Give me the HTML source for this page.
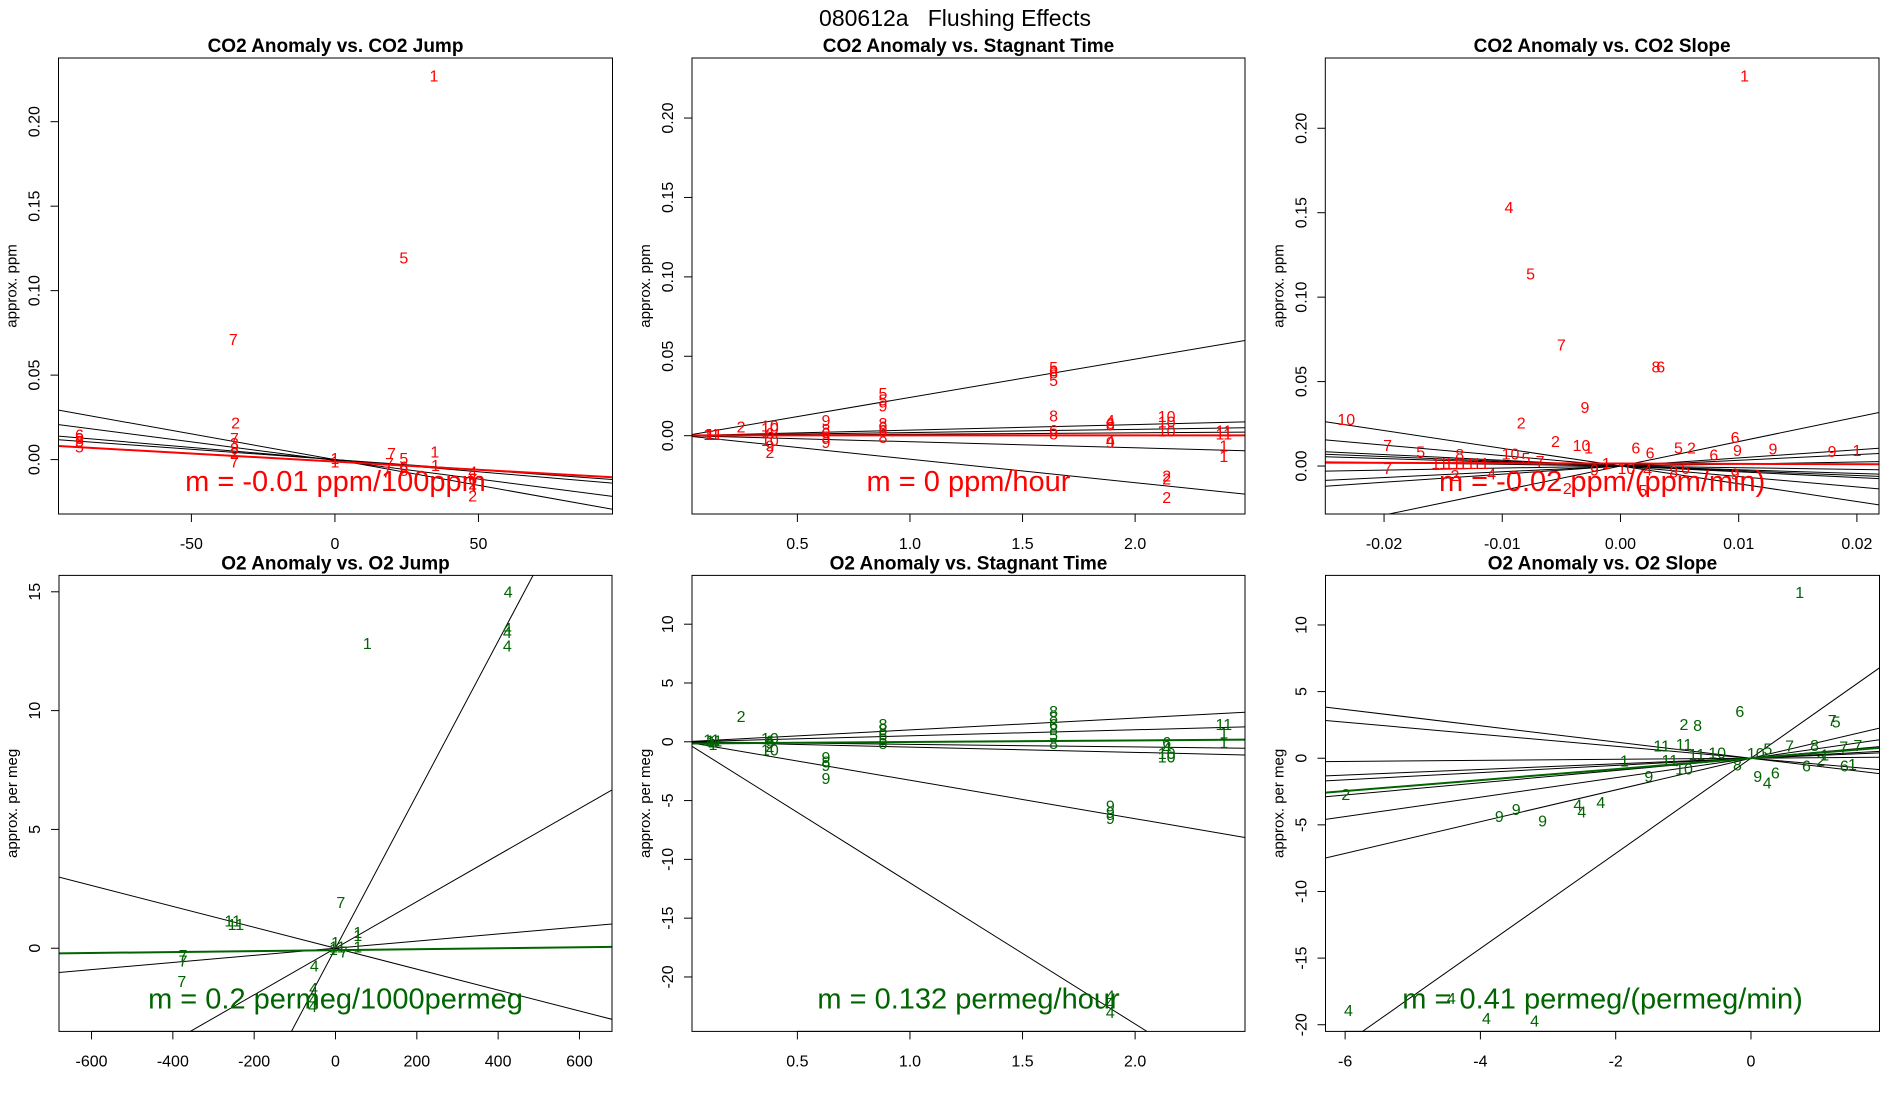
<!DOCTYPE html>
<html><head><meta charset="utf-8"><style>
html,body{margin:0;padding:0;background:#fff;width:1900px;height:1100px;overflow:hidden;}
svg{display:block;font-family:"Liberation Sans",sans-serif;}
</style></head><body>
<svg id="chart" width="1900" height="1100" viewBox="0 0 1900 1100" xmlns="http://www.w3.org/2000/svg">
<rect x="0" y="0" width="1900" height="1100" fill="#fff"/>
<text x="955" y="26" font-size="23" text-anchor="middle" style="white-space:pre" xml:space="preserve">080612a   Flushing Effects</text>
</svg>
<script>
// ---------- Panel 1: CO2 Anomaly vs. CO2 Jump ----------
const p1Labels = ["1","5","7","2","7","3","8","2","7","6","8","5","5","1","1","7","7","7","5","6","8","1","1","4","6","2","2"];
const p1X = [34.5,24,-35.4,-34.6,-35,-35,-35,-35,-35,-89,-89,-89,-89,0,0,19.7,19,18,24,24,24,34.8,35,48,48,48,48];
const p1Y = [0.2265,0.1187,0.0705,0.021,0.012,0.009,0.006,0.003,-0.002,0.014,0.012,0.010,0.007,0.0,-0.002,0.003,-0.003,-0.008,0.0,-0.005,-0.007,0.004,-0.004,-0.008,-0.012,-0.015,-0.022];
const p1Slopes = [-0.000304,-0.00022,-0.000144,-0.000122];
const p1Intercepts = [0,-0.0005,0,0];
const p1FitSlope = -0.0000959, p1FitIntercept = -0.0012;

// ---------- Panel 2: CO2 Anomaly vs. Stagnant Time ----------
const p2Labels = ["11","11","1","2","10","10","6","10","9","2","9","8","6","5","9","5","5","9","8","6","6","8","5","6","8","5","8","6","8","4","6","8","4","9","10","10","10","2","2","2","11","11","1","1"];
const p2X = [0.119,0.13,0.11,0.25,0.378,0.378,0.378,0.378,0.378,0.378,0.627,0.627,0.627,0.627,0.627,0.88,0.88,0.88,0.88,0.88,0.88,0.88,1.638,1.638,1.638,1.638,1.638,1.638,1.638,1.89,1.89,1.89,1.89,1.89,2.14,2.14,2.14,2.14,2.14,2.14,2.394,2.394,2.394,2.394];
const p2Y = [0.0,0.0,0.0,0.005,0.0055,0.004,0.0007,-0.0038,-0.007,-0.0113,0.0089,0.0032,0.001,-0.0015,-0.005,0.026,0.022,0.018,0.007,0.0047,0.0025,-0.0018,0.0424,0.040,0.039,0.034,0.0118,0.0025,0.0005,0.0089,0.007,0.006,-0.004,-0.005,0.0113,0.008,0.0022,-0.026,-0.028,-0.0394,0.0022,0.0005,-0.007,-0.0138];
const p2Slopes = [0.0241,0.0035,0.002,0.0009,-0.0038,-0.0148];
const p2Intercepts = [0,0,0,0,0,0];
const p2FitSlope = 0.0, p2FitIntercept = 0.0002;

// ---------- Panel 3: CO2 Anomaly vs. CO2 Slope ----------
const p3Labels = ["1","4","5","7","8","6","9","10","2","6","2","7","5","8","10","1","6","6","5","2","9","9","9","1","6","10","5","7","11","11","11","11","7","2","4","2","5","9","4","1","9","10","8","6"];
const p3X = [0.0105,-0.00943,-0.0076,-0.005,0.0030,0.0034,-0.003,-0.0232,-0.0084,0.0097,-0.0055,-0.0197,-0.0169,-0.0136,-0.0033,-0.0027,0.0013,0.0025,0.0049,0.006,0.0099,0.0129,0.0179,0.020,0.0079,-0.0093,-0.008,-0.0068,-0.0153,-0.0142,-0.013,-0.0118,-0.0197,-0.014,-0.0109,-0.0045,0.0019,0.0097,0.0023,-0.0012,-0.0022,0.0005,0.0045,0.0055];
const p3Y = [0.2304,0.1526,0.1131,0.0712,0.0581,0.0581,0.0342,0.027,0.025,0.0162,0.014,0.0115,0.0077,0.0063,0.0115,0.010,0.010,0.007,0.010,0.010,0.0085,0.0095,0.008,0.0087,0.0058,0.0065,0.004,0.002,0.0008,0.0008,0.0008,0.0008,-0.0021,-0.0063,-0.0053,-0.014,-0.015,-0.0053,-0.003,0.001,-0.003,-0.002,-0.004,-0.002];
const p3Slopes = [1.45,0.48,0.34,-0.22,-0.28,-0.34,-0.62,-1.05,0.12,-0.1];
const p3Intercepts = [0,0,0,0,0,0,0,0,0,0];
const p3FitSlope = -0.02, p3FitIntercept = 0.0015;

// ---------- Panel 4: O2 Anomaly vs. O2 Jump ----------
const p4Labels = ["4","4","4","4","1","7","11","11","1","1","1","7","7","7","4","4","4","4","1","11","7","1"];
const p4X = [424.6,422.7,422.7,422.7,78.3,13,-252.8,-245,55,55,55,-375,-375,-378,-52,-54,-55,-56,0,5,20,-5];
const p4Y = [14.95,13.42,13.25,12.68,12.78,1.89,1.10,0.95,0.63,0.5,0.0,-0.35,-0.57,-1.44,-0.79,-1.73,-2.2,-2.5,0.2,0.0,-0.2,-0.1];
const p4Slopes = [0.0323,0.0098,0.0015,-0.0044];
const p4Intercepts = [0,0,0,0];
const p4FitSlope = 0.0002, p4FitIntercept = -0.08;

// ---------- Panel 5: O2 Anomaly vs. Stagnant Time ----------
const p5Labels = ["11","11","1","1","2","10","6","2","9","10","9","8","9","9","8","8","6","5","8","8","8","6","8","5","8","9","9","9","4","4","4","6","4","10","10","11","1","1"];
const p5X = [0.119,0.13,0.12,0.125,0.25,0.378,0.378,0.378,0.378,0.378,0.627,0.627,0.627,0.627,0.88,0.88,0.88,0.88,0.88,1.638,1.638,1.638,1.638,1.638,1.638,1.89,1.89,1.89,1.89,1.89,1.89,2.14,2.14,2.14,2.14,2.394,2.394,2.394];
const p5Y = [0.05,0.0,-0.1,-0.3,2.07,0.2,0.0,-0.5,-0.2,-0.8,-1.43,-1.8,-2.1,-3.2,1.4,0.95,0.5,0.06,-0.25,2.5,2.0,1.4,0.95,0.5,-0.25,-5.55,-6.1,-6.6,-21.7,-22.3,-23.1,-0.15,-0.6,-1.1,-1.4,1.4,0.65,-0.15];
const p5Slopes = [-12.0,-3.27,1.01,0.51,-0.22,-0.45];
const p5Intercepts = [0,0,0,0,0,0];
const p5FitSlope = 0.132, p5FitIntercept = -0.15;

// ---------- Panel 6: O2 Anomaly vs. O2 Slope ----------
const p6Labels = ["1","6","7","5","2","8","11","11","11","1","9","10","2","9","9","9","4","4","4","4","4","4","4","7","8","7","7","1","2","6","1","9","4","6","6","5","10","8","10","11"];
const p6X = [0.72,-0.165,1.2,1.26,-0.99,-0.79,-1.32,-0.99,-1.2,-1.87,-1.51,-0.99,-5.99,-3.72,-3.47,-3.08,-2.56,-2.5,-2.22,-5.95,-4.43,-3.91,-3.2,0.57,0.94,1.37,1.58,1.09,1.03,1.38,1.5,0.1,0.24,0.36,0.82,0.25,0.07,-0.2,-0.5,-0.8];
const p6Y = [12.36,3.43,2.76,2.63,2.44,2.38,0.83,0.97,-0.25,-0.3,-1.45,-0.9,-2.8,-4.43,-3.92,-4.8,-3.6,-4.1,-3.4,-19.0,-18.1,-19.6,-19.8,0.83,0.88,0.75,0.88,0.16,-0.24,-0.64,-0.56,-1.45,-1.93,-1.18,-0.64,0.6,0.27,-0.6,0.3,0.2];
const p6Slopes = [3.57,-0.61,-0.45,0.04,0.21,0.27,0.46,0.73,1.19];
const p6Intercepts = [0,0,0,0,0,0,0,0,0];
const p6FitSlope = 0.41, p6FitIntercept = 0;

const NS = "http://www.w3.org/2000/svg";
const svg = document.getElementById("chart");
function mk(tag, attrs, parent){
  const e = document.createElementNS(NS, tag);
  for (const k in attrs) e.setAttribute(k, attrs[k]);
  (parent||svg).appendChild(e);
  return e;
}

const panels = [
  {id:"p1", box:[58.5,58,612.5,514], xlim:[-96.3,96.7], ylim:[-0.0322,0.2377], xticks:[-50,0,50], xtl:["-50","0","50"], yticks:[0,0.05,0.1,0.15,0.2], ytl:["0.00","0.05","0.10","0.15","0.20"], title:"CO2 Anomaly vs. CO2 Jump", ylab:"approx. ppm", color:"#ff0000", mtext:"m = -0.01 ppm/100ppm", labels:p1Labels, xs:p1X, ys:p1Y, slopes:p1Slopes, ints:p1Intercepts, fs:p1FitSlope, fi:p1FitIntercept},
  {id:"p2", box:[692,58,1245,514], xlim:[0.032,2.488], ylim:[-0.0493,0.2378], xticks:[0.5,1,1.5,2], xtl:["0.5","1.0","1.5","2.0"], yticks:[0,0.05,0.1,0.15,0.2], ytl:["0.00","0.05","0.10","0.15","0.20"], title:"CO2 Anomaly vs. Stagnant Time", ylab:"approx. ppm", color:"#ff0000", mtext:"m = 0 ppm/hour", labels:p2Labels, xs:p2X, ys:p2Y, slopes:p2Slopes, ints:p2Intercepts, fs:p2FitSlope, fi:p2FitIntercept},
  {id:"p3", box:[1325.3,58,1879,514], xlim:[-0.02497,0.02187], ylim:[-0.0284,0.2416], xticks:[-0.02,-0.01,0,0.01,0.02], xtl:["-0.02","-0.01","0.00","0.01","0.02"], yticks:[0,0.05,0.1,0.15,0.2], ytl:["0.00","0.05","0.10","0.15","0.20"], title:"CO2 Anomaly vs. CO2 Slope", ylab:"approx. ppm", color:"#ff0000", mtext:"m = -0.02 ppm/(ppm/min)", labels:p3Labels, xs:p3X, ys:p3Y, slopes:p3Slopes, ints:p3Intercepts, fs:p3FitSlope, fi:p3FitIntercept},
  {id:"p4", box:[59,575.4,612,1031.4], xlim:[-680,680], ylim:[-3.5,15.69], xticks:[-600,-400,-200,0,200,400,600], xtl:["-600","-400","-200","0","200","400","600"], yticks:[0,5,10,15], ytl:["0","5","10","15"], title:"O2 Anomaly vs. O2 Jump", ylab:"approx. per meg", color:"#006400", mtext:"m = 0.2 permeg/1000permeg", labels:p4Labels, xs:p4X, ys:p4Y, slopes:p4Slopes, ints:p4Intercepts, fs:p4FitSlope, fi:p4FitIntercept},
  {id:"p5", box:[692,575.4,1245,1031.4], xlim:[0.032,2.488], ylim:[-24.63,14.15], xticks:[0.5,1,1.5,2], xtl:["0.5","1.0","1.5","2.0"], yticks:[-20,-15,-10,-5,0,5,10], ytl:["-20","-15","-10","-5","0","5","10"], title:"O2 Anomaly vs. Stagnant Time", ylab:"approx. per meg", color:"#006400", mtext:"m = 0.132 permeg/hour", labels:p5Labels, xs:p5X, ys:p5Y, slopes:p5Slopes, ints:p5Intercepts, fs:p5FitSlope, fi:p5FitIntercept},
  {id:"p6", box:[1325.5,575.4,1879.5,1031.4], xlim:[-6.29,1.90], ylim:[-20.5,13.72], xticks:[-6,-4,-2,0], xtl:["-6","-4","-2","0"], yticks:[-20,-15,-10,-5,0,5,10], ytl:["-20","-15","-10","-5","0","5","10"], title:"O2 Anomaly vs. O2 Slope", ylab:"approx. per meg", color:"#006400", mtext:"m = 0.41 permeg/(permeg/min)", labels:p6Labels, xs:p6X, ys:p6Y, slopes:p6Slopes, ints:p6Intercepts, fs:p6FitSlope, fi:p6FitIntercept}
];

panels.forEach(function(p){
  const [x0,y0,x1,y1] = p.box;
  const sx = v => x0 + (v - p.xlim[0]) / (p.xlim[1]-p.xlim[0]) * (x1-x0);
  const sy = v => y1 - (v - p.ylim[0]) / (p.ylim[1]-p.ylim[0]) * (y1-y0);
  const g = mk("g", {});
  
  
  const cp = mk("clipPath", {id:"clip-"+p.id}, g);
  mk("rect", {x:x0, y:y0, width:x1-x0, height:y1-y0}, cp);

  const t = mk("text", {x:(x0+x1)/2, y:y0-6, "font-size":19, "font-weight":"bold", "text-anchor":"middle"}, g);
  t.textContent = p.title;
  
  

  p.xticks.forEach(function(v,i){
    const X = sx(v);
    mk("line", {x1:X, y1:y1, x2:X, y2:y1+8, stroke:"#000", "stroke-width":1}, g);
    const tl = mk("text", {x:X, y:y1+35, "font-size":16, "text-anchor":"middle"}, g);
    tl.textContent = p.xtl[i];
    
    
  });
  mk("line", {x1:sx(p.xticks[0]), y1:y1, x2:sx(p.xticks[p.xticks.length-1]), y2:y1, stroke:"#000", "stroke-width":1}, g);
  p.yticks.forEach(function(v,i){
    const Y = sy(v);
    mk("line", {x1:x0-8, y1:Y, x2:x0, y2:Y, stroke:"#000", "stroke-width":1}, g);
    const tl = mk("text", {x:0, y:0, "font-size":16, "text-anchor":"middle", transform:"translate("+(x0-19)+","+Y+") rotate(-90)"}, g);
    tl.textContent = p.ytl[i];
    
    
  });
  const yl = mk("text", {x:0, y:0, "font-size":15, "text-anchor":"middle", transform:"translate("+(x0-42)+","+((y0+y1)/2)+") rotate(-90)"}, g);
  yl.textContent = p.ylab;
  
  

  const lg = mk("g", {"clip-path":"url(#clip-"+p.id+")"}, g);
  p.slopes.forEach(function(m,i){
    const b = p.ints[i];
    const l = mk("line", {x1:sx(p.xlim[0]), y1:sy(b+m*p.xlim[0]), x2:sx(p.xlim[1]), y2:sy(b+m*p.xlim[1]), stroke:"#000", "stroke-width":1}, lg);
    
    
  });
  const fl = mk("line", {x1:sx(p.xlim[0]), y1:sy(p.fi+p.fs*p.xlim[0]), x2:sx(p.xlim[1]), y2:sy(p.fi+p.fs*p.xlim[1]), stroke:p.color, "stroke-width":2}, lg);
  
  

  p.labels.forEach(function(lab,i){
    const tx = mk("text", {x:sx(p.xs[i]), y:sy(p.ys[i]), "font-size":16, fill:p.color, "text-anchor":"middle", "dominant-baseline":"central"}, g);
    tx.textContent = lab;
    
    
  });

  const mt = mk("text", {x:(x0+x1)/2, y:y1-32, "font-size":29, fill:p.color, "text-anchor":"middle", "dominant-baseline":"central"}, g);
  mt.textContent = p.mtext;
  
  

  const box = mk("rect", {x:x0, y:y0, width:x1-x0, height:y1-y0, fill:"none", stroke:"#000", "stroke-width":1}, g);
  
  
});
</script>
</body></html>
